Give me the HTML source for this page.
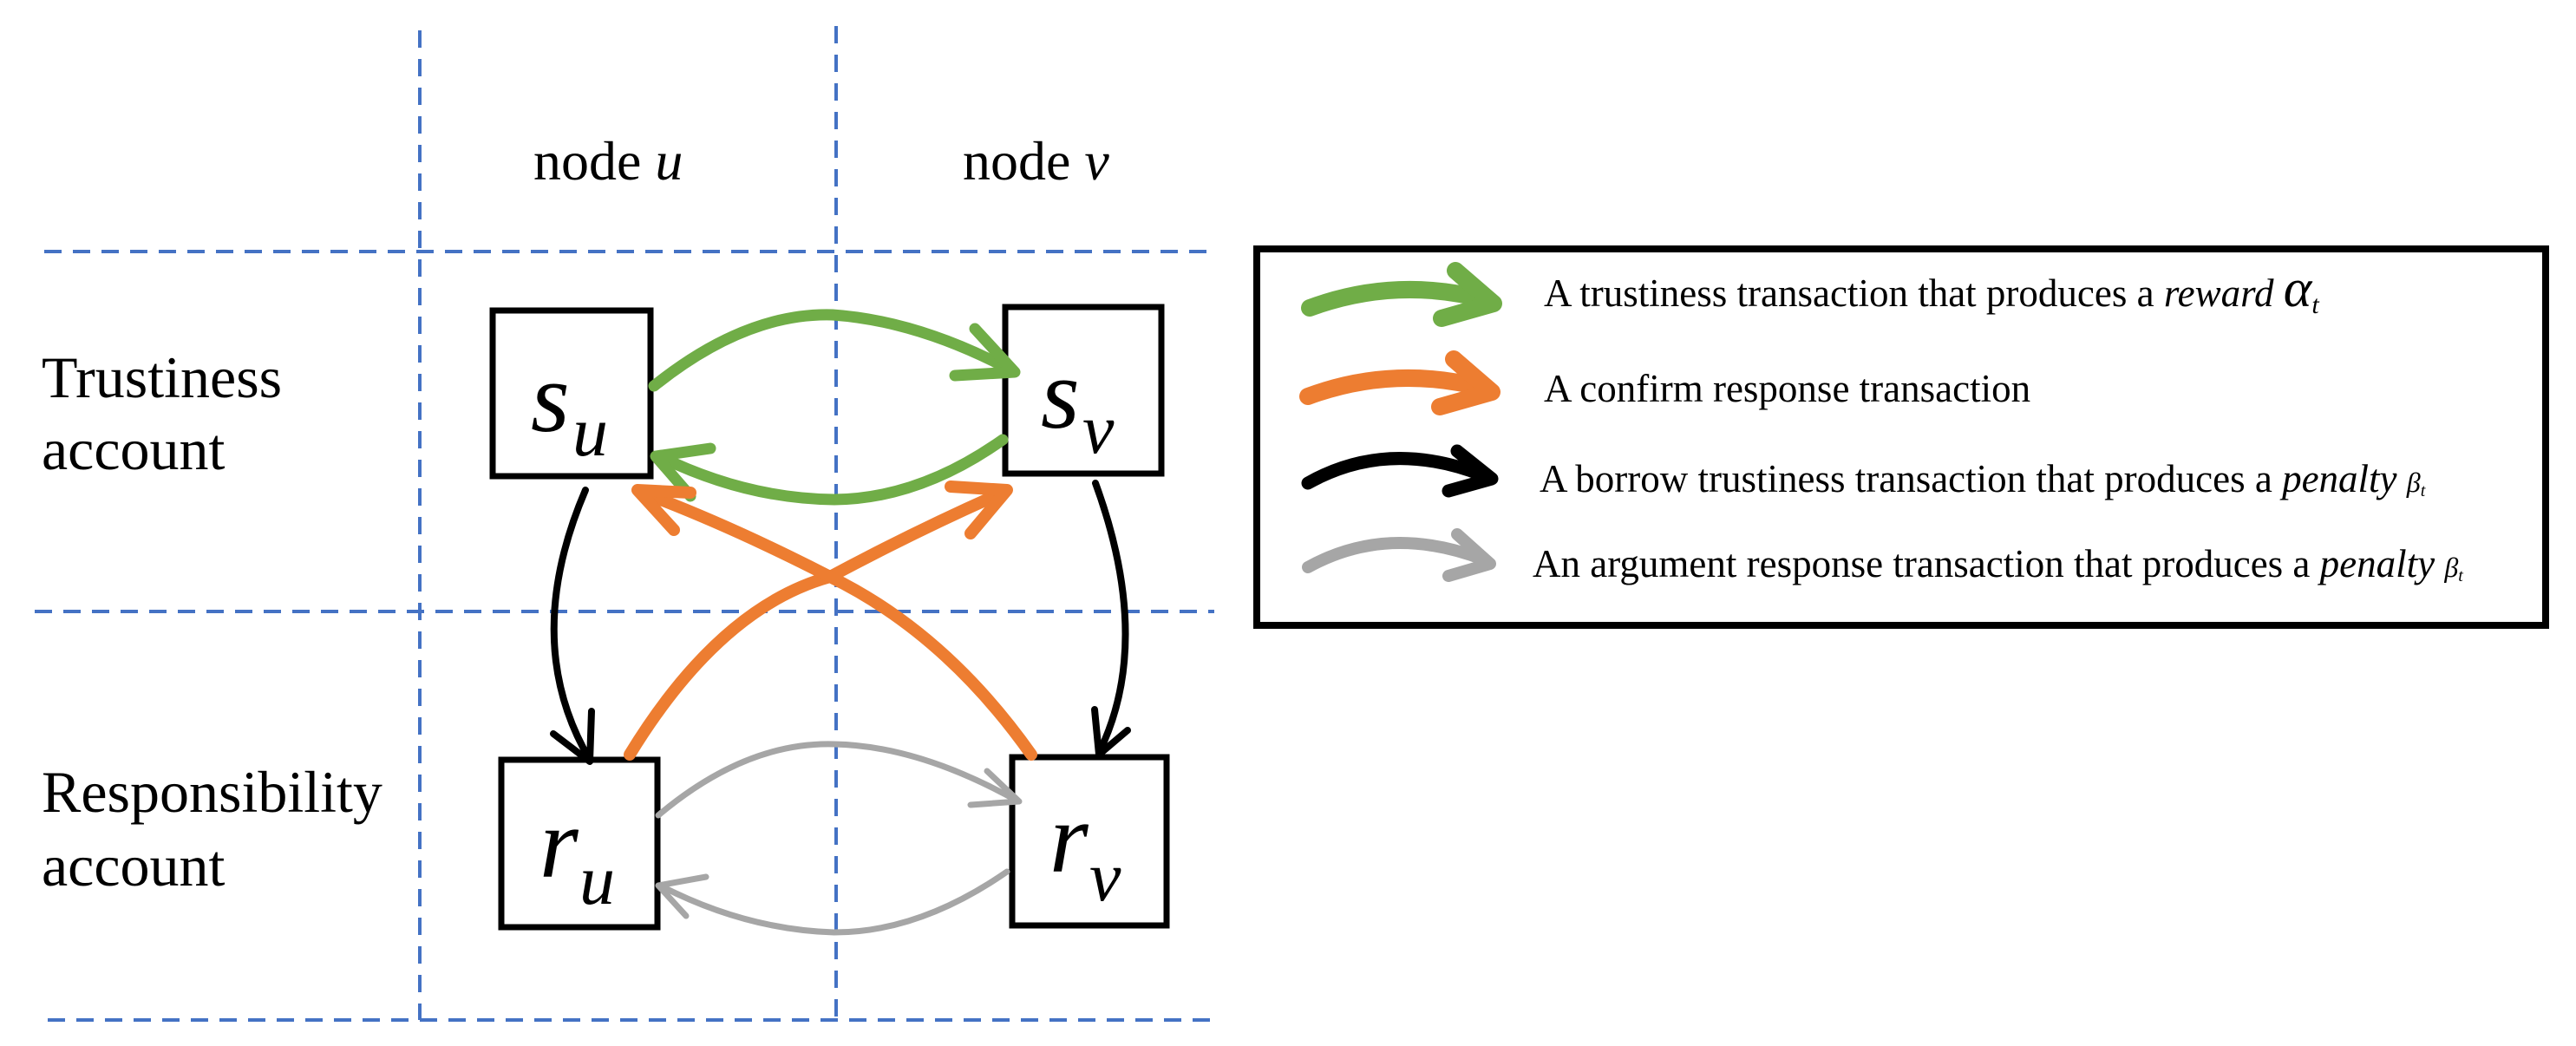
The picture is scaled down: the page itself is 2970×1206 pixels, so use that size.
<!DOCTYPE html>
<html><head><meta charset="utf-8"><style>
html,body{margin:0;padding:0;background:#fff;}
svg{display:block;}
text{font-family:"Liberation Serif",serif;fill:#000;}
</style></head><body>
<svg width="2970" height="1206" viewBox="0 0 2970 1206" xmlns="http://www.w3.org/2000/svg">
<g stroke="#4472c4" stroke-width="4" stroke-dasharray="20,13" fill="none">
<line x1="484" y1="35" x2="484" y2="1176"/>
<line x1="964" y1="30" x2="964" y2="1176"/>
<line x1="51" y1="290" x2="1400" y2="290"/>
<line x1="40" y1="705" x2="1400" y2="705"/>
<line x1="55" y1="1176" x2="1400" y2="1176"/>
</g>
<text x="615" y="207" font-size="64">node <tspan font-style="italic">u</tspan></text>
<text x="1110" y="207" font-size="64">node <tspan font-style="italic">v</tspan></text>
<text x="48" y="458" font-size="68">Trustiness</text>
<text x="48" y="541" font-size="68">account</text>
<text x="48" y="936" font-size="68">Responsibility</text>
<text x="48" y="1021" font-size="68">account</text>

<g fill="#fff" stroke="#000" stroke-width="7">
<rect x="568" y="358" width="182" height="191"/>
<rect x="1159" y="354" width="180" height="192"/>
<rect x="578" y="876" width="180" height="193"/>
<rect x="1167" y="873" width="178" height="194"/>
</g>
<text x="612" y="497" font-size="115" font-style="italic">s</text>
<text x="660" y="525" font-size="82" font-style="italic">u</text>
<text x="1200" y="493" font-size="115" font-style="italic">s</text>
<text x="1248" y="522" font-size="82" font-style="italic">v</text>
<text x="622" y="1011" font-size="115" font-style="italic">r</text>
<text x="668" y="1042" font-size="82" font-style="italic">u</text>
<text x="1210" y="1005" font-size="115" font-style="italic">r</text>
<text x="1256" y="1038" font-size="82" font-style="italic">v</text>

<g fill="none" stroke-linecap="round" stroke-linejoin="round">
<g stroke="#70ad47" stroke-width="13">
<path d="M754 445 Q860 360 960 363 Q1060 370 1168 428"/>
<path d="M1124 379 L1170 429 L1101 433"/>
<path d="M1156 507 Q1060 575 962 576 Q860 575 760 526"/>
<path d="M819 517 L756 526 L796 572"/>
</g>
<g stroke="#ed7d31" stroke-width="14">
<path d="M726 870 Q830 700 957 665 Q1060 610 1158 567"/>
<path d="M1096 561 L1161 565 L1119 615"/>
<path d="M1189 870 Q1090 730 957 665 Q840 605 738 567"/>
<path d="M796 568 L735 565 L777 611"/>
</g>
<g stroke="#000" stroke-width="8">
<path d="M675 565 Q600 740 680 876"/>
<path d="M638 846 L680 878 L682 820"/>
<path d="M1263 557 Q1330 740 1267 868"/>
<path d="M1300 842 L1267 870 L1262 818"/>
</g>
<g stroke="#a6a6a6" stroke-width="7">
<path d="M759 940 Q860 855 962 858 Q1060 860 1174 924"/>
<path d="M1138 889 L1175 924 L1119 928"/>
<path d="M1161 1005 Q1060 1075 962 1075 Q860 1072 761 1021"/>
<path d="M814 1011 L759 1021 L791 1056"/>
</g>
</g>

<rect x="1449" y="287" width="1486" height="434" fill="none" stroke="#000" stroke-width="8"/>
<g fill="none" stroke-linejoin="round" stroke-linecap="round">
<g stroke="#70ad47" stroke-width="20">
<path d="M1510 355 Q1610 318 1715 346"/><path d="M1678 312 L1722 350 L1662 367"/>
</g>
<g stroke="#ed7d31" stroke-width="20">
<path d="M1508 457 Q1608 420 1713 448"/><path d="M1676 414 L1720 452 L1660 469"/>
</g>
<g stroke="#000" stroke-width="15">
<path d="M1508 557 Q1600 505 1710 548"/><path d="M1680 520 L1720 552 L1670 566"/>
</g>
<g stroke="#a6a6a6" stroke-width="14">
<path d="M1508 654 Q1600 603 1710 645"/><path d="M1680 616 L1718 650 L1670 664"/>
</g>
</g>
<text x="1780" y="353" font-size="45">A trustiness transaction that produces a <tspan font-style="italic">reward</tspan> <tspan font-style="italic" font-size="62">α</tspan><tspan font-style="italic" font-size="30" dy="8">t</tspan></text>
<text x="1780" y="463" font-size="45">A confirm response transaction</text>
<text x="1775" y="567" font-size="45">A borrow trustiness transaction that produces a <tspan font-style="italic">penalty</tspan> <tspan font-style="italic" font-size="32">β</tspan><tspan font-style="italic" font-size="20" dy="5">t</tspan></text>
<text x="1767" y="665" font-size="45">An argument response transaction that produces a <tspan font-style="italic">penalty</tspan> <tspan font-style="italic" font-size="32">β</tspan><tspan font-style="italic" font-size="20" dy="5">t</tspan></text>
</svg>
</body></html>
